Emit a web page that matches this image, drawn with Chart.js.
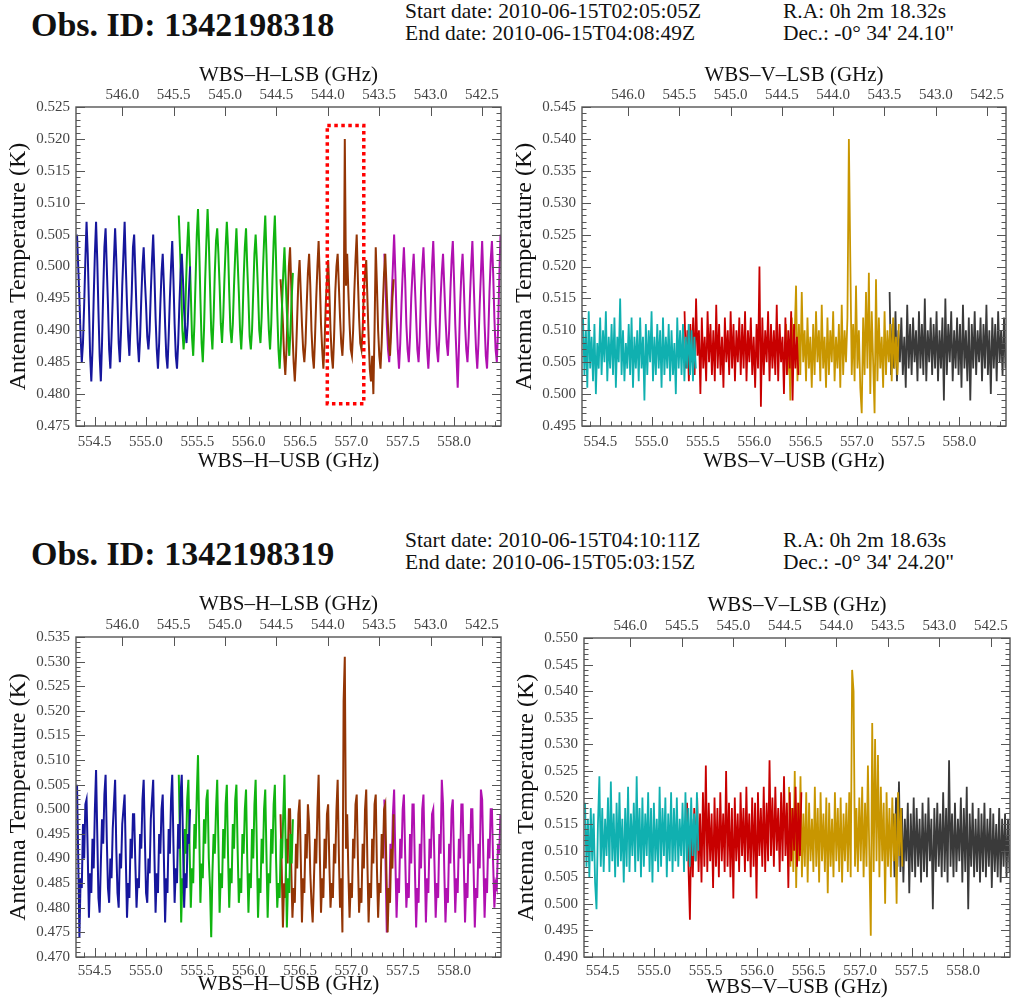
<!DOCTYPE html>
<html>
<head>
<meta charset="utf-8">
<script src="https://cdn.jsdelivr.net/npm/chart.js@4.4.1/dist/chart.umd.min.js"></script>
<style>
  body { margin: 0; background: #fff; width: 1013px; height: 1007px; position: relative; overflow: hidden; font-family: "Liberation Serif", serif; color: #111; }
  .obs { position: absolute; left: 31px; font-weight: bold; font-size: 34px; line-height: 34px; white-space: nowrap; }
  .info { position: absolute; font-size: 21.5px; line-height: 22px; white-space: nowrap; }
  canvas { position: absolute; }
</style>
</head>
<body>
<div class="obs" style="top:7.5px">Obs. ID: 1342198318</div>
<div class="info" style="left:405px;top:0px">Start date: 2010-06-15T02:05:05Z<br>End date: 2010-06-15T04:08:49Z</div>
<div class="info" style="left:783px;top:0px">R.A: 0h 2m 18.32s<br>Dec.: -0° 34' 24.10"</div>

<div class="obs" style="top:536.5px">Obs. ID: 1342198319</div>
<div class="info" style="left:405px;top:529px">Start date: 2010-06-15T04:10:11Z<br>End date: 2010-06-15T05:03:15Z</div>
<div class="info" style="left:783px;top:529px">R.A: 0h 2m 18.63s<br>Dec.: -0° 34' 24.20"</div>

<canvas id="hObs1" width="509" height="428" style="left:0;top:50px"></canvas>
<canvas id="vObs1" width="508" height="428" style="left:506px;top:50px"></canvas>
<canvas id="hObs2" width="509" height="429" style="left:0;top:580px"></canvas>
<canvas id="vObs2" width="510" height="428" style="left:508px;top:581px"></canvas>

<script>
// WBS sub-band edges (USB frequency, GHz), same for H and V
const segLo = [554.33, 555.32, 556.31, 557.32];
const segHi = [555.43, 556.43, 557.41, 558.45];
const xMin = 554.32, xMax = 558.455;
const lsbSum = 1100.77; // LSB = lsbSum - USB

// Obs 1342198318, H polarisation (K)
const h1Blue = [
  0.505, 0.500, 0.495, 0.489, 0.485, 0.488, 0.494, 0.501,
  0.507, 0.502, 0.494, 0.486, 0.482, 0.487, 0.495, 0.502,
  0.507, 0.501, 0.493, 0.486, 0.482, 0.488, 0.496, 0.503,
  0.506, 0.500, 0.494, 0.487, 0.484, 0.489, 0.495, 0.501,
  0.506, 0.501, 0.495, 0.488, 0.485, 0.490, 0.497, 0.502,
  0.507, 0.500, 0.494, 0.489, 0.486, 0.491, 0.496, 0.503,
  0.505, 0.499, 0.493, 0.488, 0.485, 0.489, 0.495, 0.500,
  0.503, 0.498, 0.494, 0.489, 0.487, 0.490, 0.496, 0.501,
  0.505, 0.499, 0.492, 0.487, 0.484, 0.488, 0.494, 0.499,
  0.502, 0.497, 0.491, 0.486, 0.484, 0.489, 0.495, 0.500,
  0.504, 0.498, 0.491, 0.486, 0.484, 0.488, 0.494, 0.499,
  0.502, 0.498, 0.493, 0.490, 0.488, 0.491, 0.496, 0.500
];
const h1Green = [
  0.508, 0.503, 0.497, 0.490, 0.487, 0.490, 0.497, 0.503,
  0.507, 0.502, 0.496, 0.489, 0.486, 0.491, 0.498, 0.505,
  0.509, 0.503, 0.495, 0.488, 0.485, 0.490, 0.498, 0.504,
  0.509, 0.504, 0.497, 0.490, 0.487, 0.492, 0.499, 0.504,
  0.506, 0.502, 0.497, 0.491, 0.488, 0.492, 0.498, 0.503,
  0.507, 0.503, 0.496, 0.490, 0.488, 0.491, 0.497, 0.502,
  0.506, 0.501, 0.496, 0.490, 0.487, 0.491, 0.498, 0.503,
  0.506, 0.500, 0.495, 0.489, 0.487, 0.490, 0.496, 0.502,
  0.505, 0.501, 0.496, 0.490, 0.488, 0.492, 0.499, 0.504,
  0.508, 0.502, 0.495, 0.490, 0.487, 0.491, 0.498, 0.504,
  0.508, 0.501, 0.493, 0.487, 0.484, 0.488, 0.494, 0.499,
  0.503, 0.498, 0.493, 0.489, 0.486, 0.490, 0.495, 0.499
];
const h1Brown = [
  0.498, 0.495, 0.491, 0.486, 0.483, 0.487, 0.493, 0.500,
  0.503, 0.497, 0.490, 0.485, 0.482, 0.486, 0.492, 0.498,
  0.501, 0.496, 0.491, 0.487, 0.485, 0.488, 0.494, 0.499,
  0.502, 0.497, 0.490, 0.486, 0.484, 0.489, 0.495, 0.500,
  0.504, 0.498, 0.491, 0.487, 0.484, 0.488, 0.494, 0.498,
  0.501, 0.496, 0.490, 0.486, 0.484, 0.489, 0.496, 0.500,
  0.502, 0.497, 0.492, 0.488, 0.486, 0.490, 0.520, 0.497,
  0.502, 0.496, 0.491, 0.487, 0.486, 0.490, 0.496, 0.501,
  0.505, 0.498, 0.492, 0.488, 0.487, 0.490, 0.496, 0.499,
  0.501, 0.495, 0.489, 0.484, 0.482, 0.486, 0.480, 0.490,
  0.503, 0.497, 0.490, 0.486, 0.484, 0.488, 0.494, 0.499,
  0.502, 0.497, 0.492, 0.488, 0.486, 0.490, 0.495, 0.498
];
const h1Magenta = [
  0.502, 0.497, 0.491, 0.487, 0.485, 0.489, 0.495, 0.500,
  0.505, 0.499, 0.492, 0.487, 0.484, 0.488, 0.494, 0.499,
  0.503, 0.498, 0.491, 0.487, 0.485, 0.489, 0.495, 0.499,
  0.502, 0.497, 0.492, 0.487, 0.485, 0.489, 0.496, 0.500,
  0.503, 0.498, 0.492, 0.487, 0.484, 0.488, 0.494, 0.500,
  0.504, 0.498, 0.491, 0.487, 0.485, 0.489, 0.495, 0.499,
  0.502, 0.497, 0.492, 0.488, 0.486, 0.490, 0.496, 0.501,
  0.504, 0.498, 0.491, 0.486, 0.481, 0.487, 0.494, 0.499,
  0.502, 0.497, 0.491, 0.487, 0.485, 0.489, 0.495, 0.500,
  0.504, 0.498, 0.492, 0.487, 0.484, 0.488, 0.494, 0.499,
  0.504, 0.498, 0.491, 0.486, 0.484, 0.489, 0.496, 0.501,
  0.504, 0.499, 0.492, 0.487, 0.485, 0.490, 0.498, 0.505
];

// Obs 1342198318, V polarisation (K)
const v1Cyan = [
  0.512, 0.503, 0.510, 0.501, 0.513, 0.504, 0.509, 0.502, 0.511, 0.500, 0.508, 0.504, 0.512, 0.503, 0.510, 0.505, 0.513, 0.502, 0.509, 0.504,
  0.511, 0.503, 0.512, 0.501, 0.509, 0.505, 0.515, 0.503, 0.510, 0.502, 0.508, 0.504, 0.511, 0.503, 0.512, 0.501, 0.509, 0.504, 0.510, 0.502,
  0.512, 0.504, 0.509, 0.499, 0.511, 0.503, 0.510, 0.505, 0.513, 0.502, 0.509, 0.503, 0.511, 0.504, 0.510, 0.501, 0.512, 0.503, 0.509, 0.504,
  0.511, 0.502, 0.510, 0.503, 0.508, 0.500, 0.512, 0.504, 0.510, 0.503, 0.511, 0.502, 0.509, 0.504, 0.511, 0.503, 0.510, 0.502, 0.509, 0.504
];
const v1Red = [
  0.513, 0.504, 0.510, 0.502, 0.511, 0.505, 0.512, 0.503, 0.515, 0.506, 0.510, 0.500, 0.512, 0.504, 0.509, 0.502, 0.513, 0.505, 0.511, 0.503,
  0.510, 0.502, 0.514, 0.504, 0.511, 0.503, 0.509, 0.501, 0.512, 0.505, 0.510, 0.503, 0.513, 0.504, 0.511, 0.502, 0.510, 0.505, 0.512, 0.503,
  0.511, 0.504, 0.513, 0.502, 0.510, 0.505, 0.512, 0.503, 0.509, 0.501, 0.511, 0.504, 0.520, 0.498, 0.512, 0.503, 0.510, 0.505, 0.513, 0.502,
  0.511, 0.504, 0.510, 0.503, 0.514, 0.502, 0.511, 0.505, 0.509, 0.500, 0.512, 0.503, 0.510, 0.504, 0.513, 0.499, 0.511, 0.504, 0.509, 0.503
];
const v1Gold = [
  0.511, 0.503, 0.508, 0.499, 0.512, 0.504, 0.509, 0.517, 0.502, 0.511, 0.503, 0.516, 0.505, 0.510, 0.502, 0.512, 0.504, 0.509, 0.501, 0.511,
  0.503, 0.513, 0.505, 0.510, 0.502, 0.514, 0.504, 0.509, 0.501, 0.512, 0.503, 0.510, 0.505, 0.513, 0.502, 0.509, 0.504, 0.511, 0.501, 0.514,
  0.503, 0.510, 0.505, 0.512, 0.540, 0.521, 0.503, 0.511, 0.502, 0.517, 0.504, 0.510, 0.501, 0.497, 0.512, 0.503, 0.516, 0.504, 0.519, 0.500,
  0.513, 0.505, 0.497, 0.518, 0.502, 0.512, 0.504, 0.509, 0.501, 0.513, 0.503, 0.510, 0.505, 0.511, 0.502, 0.512, 0.504, 0.509, 0.503, 0.511
];
const v1Gray = [
  0.516, 0.503, 0.511, 0.504, 0.513, 0.502, 0.510, 0.505, 0.512, 0.503, 0.509, 0.501, 0.514, 0.504, 0.511, 0.503, 0.512, 0.505, 0.510, 0.502,
  0.513, 0.504, 0.511, 0.503, 0.515, 0.502, 0.510, 0.505, 0.512, 0.503, 0.511, 0.504, 0.513, 0.502, 0.510, 0.504, 0.512, 0.499, 0.515, 0.503,
  0.511, 0.505, 0.513, 0.502, 0.510, 0.504, 0.512, 0.503, 0.511, 0.501, 0.514, 0.504, 0.510, 0.502, 0.512, 0.499, 0.511, 0.504, 0.513, 0.503,
  0.510, 0.505, 0.512, 0.502, 0.511, 0.504, 0.514, 0.503, 0.510, 0.500, 0.512, 0.504, 0.511, 0.502, 0.513, 0.505, 0.510, 0.503, 0.512, 0.504
];

// Obs 1342198319, H polarisation (K)
const h2Blue = [
  0.505, 0.490, 0.474, 0.486, 0.484, 0.497, 0.490, 0.501,
  0.502, 0.491, 0.478, 0.487, 0.483, 0.494, 0.488, 0.500,
  0.508, 0.495, 0.482, 0.479, 0.489, 0.498, 0.493, 0.503,
  0.507, 0.494, 0.484, 0.481, 0.490, 0.486, 0.496, 0.501,
  0.506, 0.492, 0.483, 0.480, 0.491, 0.488, 0.497, 0.500,
  0.503, 0.490, 0.478, 0.485, 0.482, 0.494, 0.490, 0.499,
  0.499, 0.489, 0.480, 0.486, 0.484, 0.495, 0.492, 0.502,
  0.506, 0.494, 0.483, 0.481, 0.490, 0.487, 0.498, 0.502,
  0.506, 0.491, 0.479, 0.487, 0.483, 0.495, 0.491, 0.500,
  0.503, 0.490, 0.477, 0.486, 0.483, 0.496, 0.491, 0.502,
  0.507, 0.493, 0.481, 0.488, 0.485, 0.497, 0.492, 0.503,
  0.507, 0.494, 0.480, 0.487, 0.484, 0.495, 0.493, 0.500
];
const h2Green = [
  0.507, 0.493, 0.477, 0.486, 0.484, 0.496, 0.491, 0.502,
  0.506, 0.492, 0.480, 0.488, 0.485, 0.497, 0.492, 0.503,
  0.511, 0.496, 0.481, 0.489, 0.486, 0.498, 0.493, 0.502,
  0.504, 0.490, 0.484, 0.474, 0.487, 0.495, 0.491, 0.500,
  0.506, 0.493, 0.479, 0.487, 0.484, 0.496, 0.490, 0.501,
  0.505, 0.491, 0.480, 0.488, 0.485, 0.497, 0.492, 0.502,
  0.505, 0.492, 0.481, 0.486, 0.483, 0.495, 0.491, 0.500,
  0.504, 0.490, 0.479, 0.487, 0.484, 0.496, 0.490, 0.501,
  0.506, 0.492, 0.478, 0.486, 0.483, 0.494, 0.489, 0.500,
  0.504, 0.491, 0.478, 0.487, 0.485, 0.496, 0.491, 0.501,
  0.505, 0.490, 0.480, 0.485, 0.482, 0.494, 0.490, 0.499,
  0.507, 0.492, 0.476, 0.486, 0.483, 0.495, 0.489, 0.498
];
const h2Brown = [
  0.499, 0.488, 0.476, 0.485, 0.482, 0.494, 0.489, 0.500,
  0.500, 0.488, 0.478, 0.484, 0.481, 0.493, 0.488, 0.499,
  0.502, 0.490, 0.477, 0.486, 0.483, 0.495, 0.490, 0.501,
  0.497, 0.487, 0.481, 0.477, 0.485, 0.494, 0.489, 0.500,
  0.507, 0.491, 0.479, 0.486, 0.482, 0.494, 0.488, 0.499,
  0.501, 0.489, 0.480, 0.485, 0.482, 0.493, 0.489, 0.500,
  0.506, 0.491, 0.480, 0.486, 0.475, 0.522, 0.531, 0.492,
  0.499, 0.487, 0.478, 0.485, 0.482, 0.494, 0.490, 0.501,
  0.503, 0.490, 0.479, 0.484, 0.481, 0.493, 0.488, 0.500,
  0.504, 0.489, 0.477, 0.485, 0.482, 0.494, 0.489, 0.501,
  0.503, 0.488, 0.478, 0.485, 0.483, 0.495, 0.490, 0.500,
  0.501, 0.487, 0.475, 0.484, 0.481, 0.492, 0.488, 0.499
];
const h2Magenta = [
  0.502, 0.489, 0.475, 0.484, 0.481, 0.493, 0.488, 0.499,
  0.504, 0.490, 0.478, 0.486, 0.483, 0.494, 0.490, 0.500,
  0.503, 0.491, 0.480, 0.485, 0.482, 0.495, 0.489, 0.501,
  0.501, 0.488, 0.476, 0.484, 0.481, 0.493, 0.488, 0.500,
  0.503, 0.490, 0.477, 0.486, 0.483, 0.494, 0.490, 0.499,
  0.500, 0.489, 0.478, 0.485, 0.482, 0.495, 0.491, 0.506,
  0.501, 0.488, 0.477, 0.484, 0.481, 0.493, 0.489, 0.500,
  0.502, 0.490, 0.479, 0.486, 0.483, 0.494, 0.490, 0.501,
  0.501, 0.489, 0.477, 0.485, 0.482, 0.495, 0.489, 0.500,
  0.500, 0.488, 0.476, 0.484, 0.482, 0.493, 0.488, 0.504,
  0.502, 0.490, 0.478, 0.486, 0.483, 0.494, 0.490, 0.500,
  0.500, 0.489, 0.480, 0.485, 0.484, 0.493, 0.491, 0.499
];

// Obs 1342198319, V polarisation (K)
const v2Cyan = [
  0.519, 0.507, 0.516, 0.505, 0.518, 0.508, 0.517, 0.504, 0.499, 0.515, 0.524, 0.507, 0.518, 0.506, 0.516, 0.509, 0.520, 0.506, 0.523, 0.508,
  0.517, 0.505, 0.519, 0.507, 0.521, 0.508, 0.516, 0.504, 0.518, 0.507, 0.522, 0.506, 0.517, 0.509, 0.519, 0.506, 0.524, 0.508, 0.518, 0.505,
  0.520, 0.507, 0.517, 0.509, 0.521, 0.506, 0.518, 0.504, 0.519, 0.508, 0.516, 0.506, 0.522, 0.507, 0.518, 0.509, 0.520, 0.505, 0.517, 0.508,
  0.521, 0.506, 0.518, 0.508, 0.520, 0.507, 0.516, 0.509, 0.519, 0.506, 0.521, 0.508, 0.518, 0.507, 0.520, 0.509, 0.517, 0.508, 0.521, 0.510
];
const v2Red = [
  0.519, 0.507, 0.497, 0.516, 0.505, 0.518, 0.508, 0.520, 0.506, 0.517, 0.504, 0.521, 0.507, 0.526, 0.506, 0.519, 0.508, 0.517, 0.503, 0.520,
  0.507, 0.518, 0.505, 0.521, 0.508, 0.517, 0.506, 0.525, 0.507, 0.519, 0.505, 0.518, 0.501, 0.520, 0.508, 0.517, 0.506, 0.521, 0.509, 0.518,
  0.506, 0.522, 0.508, 0.517, 0.505, 0.520, 0.507, 0.519, 0.501, 0.521, 0.509, 0.518, 0.507, 0.522, 0.506, 0.519, 0.508, 0.527, 0.509, 0.520,
  0.507, 0.522, 0.510, 0.518, 0.506, 0.521, 0.508, 0.524, 0.509, 0.519, 0.503, 0.521, 0.508, 0.518, 0.510, 0.522, 0.507, 0.519, 0.509, 0.521
];
const v2Gold = [
  0.522, 0.507, 0.518, 0.506, 0.525, 0.503, 0.519, 0.508, 0.524, 0.505, 0.517, 0.507, 0.521, 0.504, 0.519, 0.508, 0.516, 0.506, 0.522, 0.507,
  0.518, 0.504, 0.521, 0.508, 0.517, 0.506, 0.520, 0.502, 0.519, 0.507, 0.516, 0.505, 0.521, 0.508, 0.518, 0.506, 0.520, 0.504, 0.517, 0.508,
  0.519, 0.506, 0.521, 0.505, 0.544, 0.540, 0.507, 0.518, 0.506, 0.520, 0.508, 0.522, 0.505, 0.519, 0.507, 0.526, 0.509, 0.494, 0.534, 0.506,
  0.531, 0.508, 0.528, 0.505, 0.522, 0.508, 0.519, 0.500, 0.521, 0.507, 0.518, 0.505, 0.520, 0.508, 0.517, 0.500, 0.521, 0.509, 0.518, 0.507
];
const v2Gray = [
  0.517, 0.505, 0.520, 0.507, 0.523, 0.506, 0.518, 0.504, 0.516, 0.508, 0.519, 0.502, 0.517, 0.506, 0.520, 0.505, 0.518, 0.507, 0.516, 0.504,
  0.519, 0.506, 0.517, 0.505, 0.520, 0.508, 0.516, 0.499, 0.518, 0.506, 0.519, 0.507, 0.517, 0.505, 0.521, 0.506, 0.518, 0.504, 0.527, 0.507,
  0.517, 0.505, 0.519, 0.506, 0.516, 0.508, 0.520, 0.504, 0.518, 0.506, 0.522, 0.499, 0.517, 0.507, 0.519, 0.505, 0.516, 0.506, 0.518, 0.504,
  0.517, 0.506, 0.519, 0.505, 0.516, 0.507, 0.518, 0.503, 0.517, 0.506, 0.515, 0.505, 0.518, 0.504, 0.516, 0.507, 0.517, 0.505, 0.516, 0.506
];

const colorsH = ['#16169c', '#10b410', '#933505', '#b010b0'];
const colorsV = ['#10b0b0', '#c80000', '#c89600', '#3a3a3a'];

const tickFont = { family: 'Liberation Serif', size: 15 };
const titleFont = { family: 'Liberation Serif', size: 21 };

// spectrum channels spread over the sub-band
function seriesPoints(vals, s) {
  const lo = segLo[s], hi = segHi[s];
  return vals.map((y, k) => ({ x: lo + (hi - lo) * k / (vals.length - 1), y: y }));
}

// IDL-like frame with inward major/minor ticks, plus optional dotted box
const frameTicks = {
  id: 'frameTicks',
  afterDatasetsDraw(chart, args, opts) {
    const { ctx, chartArea: a, scales } = chart;
    const x = scales.x, y = scales.y, x2 = scales.x2;
    ctx.save();
    ctx.strokeStyle = '#555';
    ctx.lineWidth = 1;
    ctx.beginPath();
    for (let k = Math.ceil(x.min * 10 - 1e-6); k <= Math.floor(x.max * 10 + 1e-6); k++) {
      const px = Math.round(x.getPixelForValue(k / 10)) + 0.5;
      const len = k % 5 === 0 ? 9 : 4.5;
      ctx.moveTo(px, a.bottom); ctx.lineTo(px, a.bottom - len);
    }
    x2.ticks.forEach(t => {
      const px = Math.round(x2.getPixelForValue(t.value)) + 0.5;
      ctx.moveTo(px, a.top); ctx.lineTo(px, a.top + 9);
    });
    for (let k = Math.ceil(y.min * 1000 - 1e-6); k <= Math.floor(y.max * 1000 + 1e-6); k++) {
      const py = Math.round(y.getPixelForValue(k / 1000)) + 0.5;
      const len = k % 5 === 0 ? 9 : 4.5;
      ctx.moveTo(a.left, py); ctx.lineTo(a.left + len, py);
      ctx.moveTo(a.right, py); ctx.lineTo(a.right - len, py);
    }
    ctx.stroke();
    ctx.lineWidth = 1.4;
    ctx.strokeRect(a.left, a.top, a.right - a.left, a.bottom - a.top);
    if (opts.box) {
      const b = opts.box;
      const l = x.getPixelForValue(b.x0), r = x.getPixelForValue(b.x1);
      const t = y.getPixelForValue(b.y1), bt = y.getPixelForValue(b.y0);
      ctx.strokeStyle = '#ff0000';
      ctx.lineWidth = 3.5;
      ctx.setLineDash([3.5, 3.5]);
      ctx.strokeRect(l, t, r - l, bt - t);
    }
    ctx.restore();
  }
};

function spectrumChart(id, lists, colors, pol, yMin, yMax, lw, pads, box) {
  return new Chart(document.getElementById(id), {
    type: 'line',
    data: {
      datasets: lists.map((vals, s) => ({
        data: seriesPoints(vals, s),
        borderColor: colors[s],
        borderWidth: lw,
        pointRadius: 0,
        tension: 0,
        fill: false
      }))
    },
    options: {
      responsive: false,
      animation: false,
      devicePixelRatio: 1,
      layout: { padding: { left: 0, right: 8, top: 0, bottom: 0 } },
      plugins: { legend: { display: false }, tooltip: { enabled: false }, frameTicks: { box: box } },
      scales: {
        x: {
          type: 'linear', position: 'bottom', min: xMin, max: xMax,
          grid: { display: false, drawTicks: false }, border: { display: false },
          ticks: { stepSize: 0.5, includeBounds: false, padding: pads.xTick, color: '#444', font: tickFont, maxRotation: 0,
                   callback: v => v.toFixed(1) },
          title: { display: true, text: 'WBS–' + pol + '–USB (GHz)', color: '#111', font: titleFont, padding: { top: 0, bottom: pads.xTitle } },
          afterFit: s => { s.height = 52; }
        },
        x2: {
          type: 'linear', position: 'top', reverse: true, min: lsbSum - xMax, max: lsbSum - xMin,
          grid: { display: false, drawTicks: false }, border: { display: false },
          ticks: { stepSize: 0.5, includeBounds: false, padding: pads.x2Tick, color: '#444', font: tickFont, maxRotation: 0,
                   callback: v => v.toFixed(1) },
          title: { display: true, text: 'WBS–' + pol + '–LSB (GHz)', color: '#111', font: titleFont, padding: { top: pads.x2Title, bottom: 0 } },
          afterFit: s => { s.height = 57; }
        },
        y: {
          type: 'linear', position: 'left', min: yMin, max: yMax,
          grid: { display: false, drawTicks: false }, border: { display: false },
          ticks: { stepSize: 0.005, padding: 6, color: '#444', font: tickFont, callback: v => v.toFixed(3) },
          title: { display: true, text: 'Antenna Temperature (K)', color: '#111', font: { family: 'Liberation Serif', size: 24 }, padding: { top: 4.5, bottom: 0 } },
          afterFit: s => { s.width = 76; }
        }
      }
    },
    plugins: [frameTicks]
  });
}

spectrumChart('hObs1', [h1Blue, h1Green, h1Brown, h1Magenta], colorsH, 'H', 0.475, 0.525, 2,
  { xTick: 7, xTitle: 4.4, x2Tick: 3, x2Title: 12.5 },
  { x0: 556.765, x1: 557.12, y0: 0.4785, y1: 0.5221 });
spectrumChart('vObs1', [v1Cyan, v1Red, v1Gold, v1Gray], colorsV, 'V', 0.495, 0.545, 1.8,
  { xTick: 7, xTitle: 4.4, x2Tick: 3, x2Title: 12.5 }, null);
spectrumChart('hObs2', [h2Blue, h2Green, h2Brown, h2Magenta], colorsH, 'H', 0.470, 0.535, 2,
  { xTick: 5, xTitle: 12.4, x2Tick: 3, x2Title: 12 }, null);
spectrumChart('vObs2', [v2Cyan, v2Red, v2Gold, v2Gray], colorsV, 'V', 0.490, 0.550, 1.8,
  { xTick: 5, xTitle: 9.4, x2Tick: 3, x2Title: 12 }, null);
</script>
</body>
</html>
